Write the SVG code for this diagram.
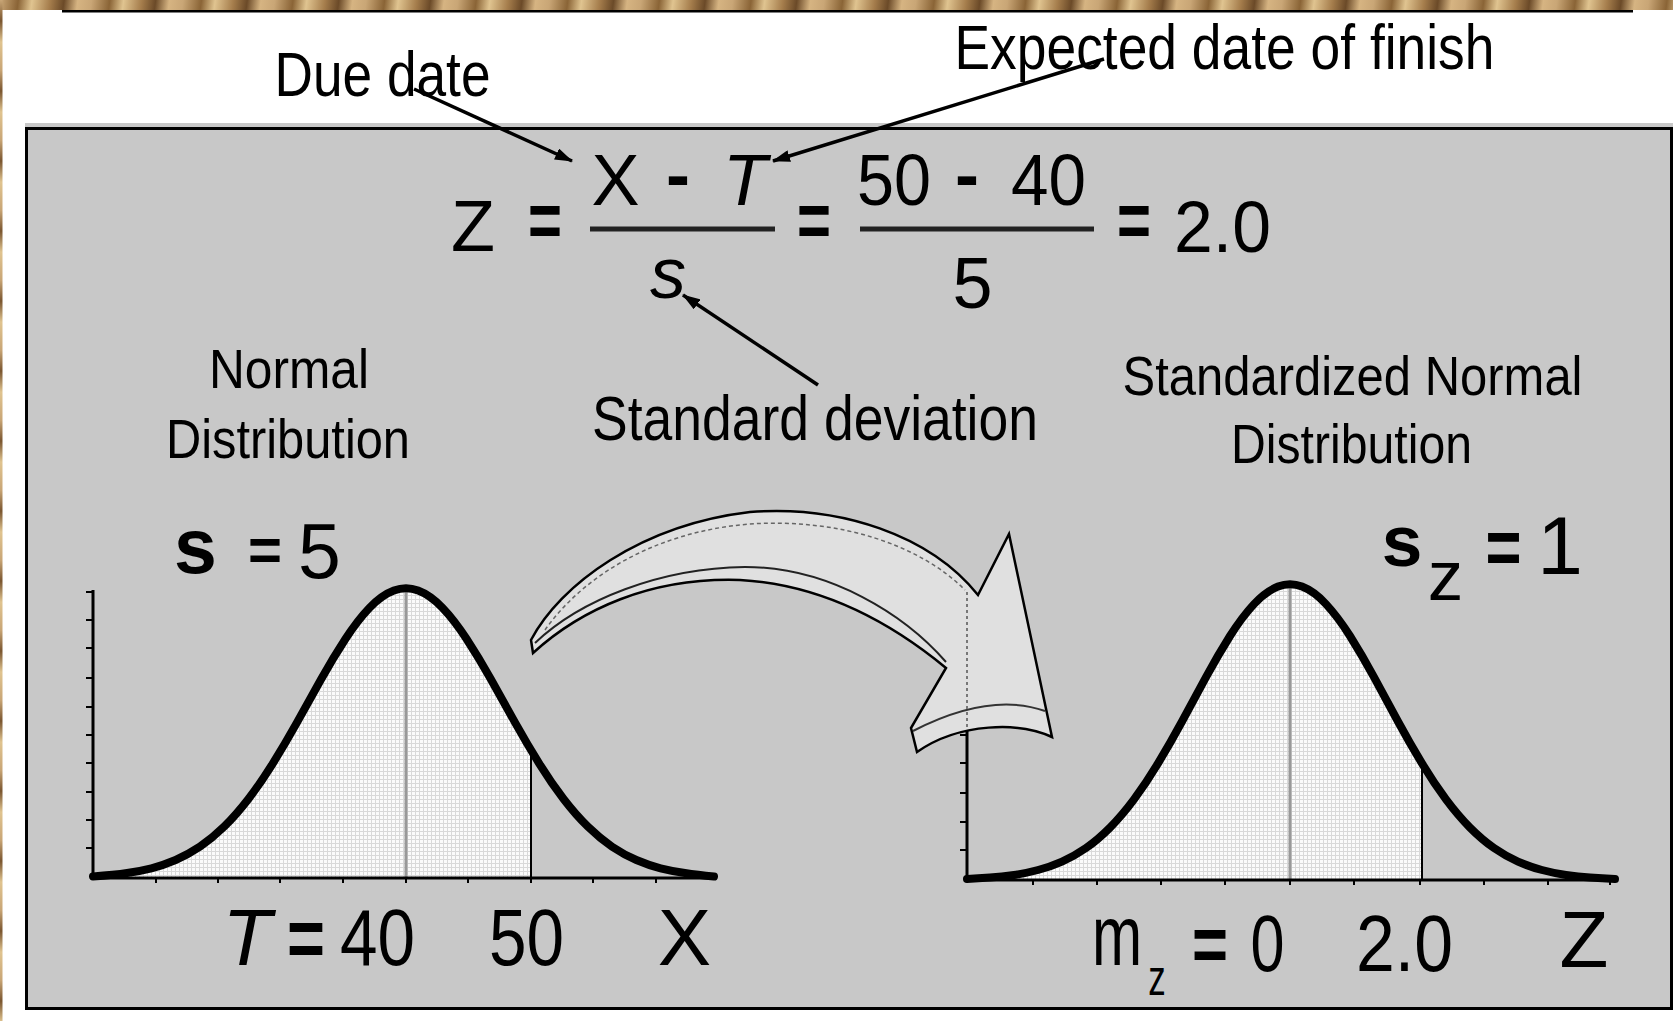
<svg xmlns="http://www.w3.org/2000/svg" width="1673" height="1021" viewBox="0 0 1673 1021">
<defs>
<style>
text{font-family:"Liberation Sans Narrow","Liberation Sans",Arial,sans-serif;fill:#000;text-anchor:middle}
.lbl{font-size:63px}
.sub{font-size:56px}
.eq{font-size:72px}
.bold{font-weight:bold}
.it{font-style:italic}
.conn{stroke:#000;stroke-width:3.5;fill:none;marker-end:url(#ah)}
.axis{stroke:#000;stroke-width:3;fill:none}
.tick{stroke:#000;stroke-width:2}
.curve{stroke:#000;stroke-width:8;fill:none;stroke-linejoin:round;stroke-linecap:round}
.mean{stroke:#999;stroke-width:3}
.cut{stroke:#000;stroke-width:2}
.frac{stroke:#222;stroke-width:5}
</style>
<linearGradient id="wood" gradientUnits="userSpaceOnUse" x1="0" y1="0" x2="90" y2="12" spreadMethod="repeat">
<stop offset="0" stop-color="#c9a676"/>
<stop offset="0.2" stop-color="#8a6436"/>
<stop offset="0.35" stop-color="#e0c490"/>
<stop offset="0.55" stop-color="#a57d4c"/>
<stop offset="0.7" stop-color="#6b4a28"/>
<stop offset="0.85" stop-color="#d6b482"/>
<stop offset="1" stop-color="#c9a676"/>
</linearGradient>
<linearGradient id="woodv" gradientUnits="userSpaceOnUse" x1="0" y1="0" x2="0" y2="70" spreadMethod="repeat">
<stop offset="0" stop-color="#c9a676"/>
<stop offset="0.3" stop-color="#7a5630"/>
<stop offset="0.6" stop-color="#e0c490"/>
<stop offset="1" stop-color="#c9a676"/>
</linearGradient>
<pattern id="dots" width="4" height="4" patternUnits="userSpaceOnUse">
<rect width="4" height="4" fill="#fbfbfb"/>
<rect x="3" width="1" height="4" fill="#d9d9d9"/>
<rect y="3" width="4" height="1" fill="#d9d9d9"/>
</pattern>
<marker id="ah" markerUnits="userSpaceOnUse" viewBox="0 0 18 12" refX="17" refY="6" markerWidth="18" markerHeight="12" orient="auto">
<path d="M0,0 L18,6 L0,12 z" fill="#000"/>
</marker>
</defs>

<rect x="0" y="0" width="1673" height="1021" fill="#fff"/>
<rect x="0" y="0" width="1673" height="10" fill="url(#wood)"/>
<rect x="0" y="0" width="2.5" height="1021" fill="url(#woodv)"/>
<rect x="62" y="10" width="1571" height="2.5" fill="#000"/>

<g id="panel">
<rect x="25" y="123" width="1648" height="887" fill="#c8c8c8"/>
<rect x="26.5" y="128.5" width="1645" height="880" fill="none" stroke="#000" stroke-width="3"/>
</g>

<g id="label-due-date"><text class="lbl" x="382.5" y="96" textLength="216" lengthAdjust="spacingAndGlyphs">Due date</text></g>
<g id="label-expected"><text class="lbl" x="1224.5" y="69" textLength="540" lengthAdjust="spacingAndGlyphs">Expected date of finish</text></g>

<g id="formula">
<text class="eq" x="473" y="251">Z</text>
<text class="bold" x="545" y="247" font-size="80" textLength="34" lengthAdjust="spacingAndGlyphs">=</text>
<text class="eq" x="615.5" y="205">X</text>
<text class="eq bold" x="678" y="199">-</text>
<text class="eq it" x="745" y="205">T</text>
<line class="frac" x1="590" y1="229" x2="775" y2="229"/>
<text class="eq it" x="668" y="298">s</text>
<text class="bold" x="814" y="247" font-size="80" textLength="34" lengthAdjust="spacingAndGlyphs">=</text>
<text class="eq" x="894" y="205" textLength="74" lengthAdjust="spacingAndGlyphs">50</text>
<text class="eq bold" x="967" y="199">-</text>
<text class="eq" x="1048.5" y="205" textLength="75" lengthAdjust="spacingAndGlyphs">40</text>
<line class="frac" x1="860" y1="229" x2="1094" y2="229"/>
<text class="eq" x="972.5" y="308">5</text>
<text class="bold" x="1134" y="247" font-size="80" textLength="34" lengthAdjust="spacingAndGlyphs">=</text>
<text class="eq" x="1222.5" y="252" textLength="97" lengthAdjust="spacingAndGlyphs">2.0</text>
</g>

<g id="label-std-dev"><text class="lbl" x="815" y="440" textLength="446" lengthAdjust="spacingAndGlyphs">Standard deviation</text></g>

<g id="title-normal">
<text class="sub" x="289" y="388" textLength="160" lengthAdjust="spacingAndGlyphs">Normal</text>
<text class="sub" x="288" y="458" textLength="244" lengthAdjust="spacingAndGlyphs">Distribution</text>
</g>
<g id="title-standardized">
<text class="sub" x="1352.5" y="395" textLength="460" lengthAdjust="spacingAndGlyphs">Standardized Normal</text>
<text class="sub" x="1351.5" y="463" textLength="241" lengthAdjust="spacingAndGlyphs">Distribution</text>
</g>

<g id="chart-normal">
<path d="M93,878 L115,874.8 L139.25,871.3 L163.5,865.2 L187.75,854.8 L212,838.5 L236.25,814.8 L260.5,783.2 L284.75,744.3 L309,700.9 L333.25,657.6 L357.5,620.3 L381.75,595 L406,586 L430.25,595 L454.5,620.3 L478.75,657.6 L503,700.9 L527.25,744.3 L531,750.7 L531,878 Z" fill="url(#dots)"/>
<line class="mean" x1="406" y1="586" x2="406" y2="878"/>
<line class="cut" x1="531" y1="751" x2="531" y2="878"/>
<line class="axis" x1="93" y1="590" x2="93" y2="879"/>
<line class="axis" x1="92" y1="878" x2="714" y2="878"/>
<g class="tick">
<line x1="86" y1="592" x2="93" y2="592"/><line x1="86" y1="620" x2="93" y2="620"/><line x1="86" y1="648" x2="93" y2="648"/><line x1="86" y1="678" x2="93" y2="678"/><line x1="86" y1="707" x2="93" y2="707"/><line x1="86" y1="735" x2="93" y2="735"/><line x1="86" y1="763" x2="93" y2="763"/><line x1="86" y1="792" x2="93" y2="792"/><line x1="86" y1="820" x2="93" y2="820"/><line x1="86" y1="848" x2="93" y2="848"/>
<line x1="156" y1="878" x2="156" y2="883"/><line x1="218" y1="878" x2="218" y2="883"/><line x1="280" y1="878" x2="280" y2="883"/><line x1="343" y1="878" x2="343" y2="883"/><line x1="406" y1="878" x2="406" y2="883"/><line x1="468" y1="878" x2="468" y2="883"/><line x1="531" y1="878" x2="531" y2="883"/><line x1="593" y1="878" x2="593" y2="883"/><line x1="656" y1="878" x2="656" y2="883"/>
</g>
<path class="curve" d="M93,876.5 Q115,874.8 127.1,873 Q139.25,871.3 151.4,868.3 Q163.5,865.2 175.6,860 Q187.75,854.8 199.9,846.7 Q212,838.5 224.1,826.7 Q236.25,814.8 248.4,799 Q260.5,783.2 272.6,763.8 Q284.75,744.3 296.9,722.6 Q309,700.9 321.1,679.3 Q333.25,657.6 345.4,639 Q357.5,620.3 369.6,607.7 Q381.75,595 393.9,590.5 Q406,586 418.1,590.5 Q430.25,595 442.4,607.7 Q454.5,620.3 466.6,639 Q478.75,657.6 490.9,679.3 Q503,700.9 515.1,722.6 Q527.25,744.3 539.4,763.8 Q551.5,783.2 563.6,799 Q575.75,814.8 587.9,826.7 Q600,838.5 612.1,846.7 Q624.25,854.8 636.4,860 Q648.5,865.2 660.6,868.3 Q672.75,871.3 684.9,873 Q697,874.8 714,876.5"/>
</g>

<g id="chart-standardized">
<path d="M967,879 L978,878.5 L1002,876.7 L1026,873.2 L1050,866.9 L1074,856.3 L1098,839.7 L1122,815.5 L1146,783.2 L1170,743.6 L1194,699.3 L1218,655.1 L1242,617 L1266,591.2 L1290,582 L1314,591.2 L1338,617 L1362,655.1 L1386,699.3 L1410,743.6 L1422,764 L1422,880 L967,880 Z" fill="url(#dots)"/>
<line class="mean" x1="1290" y1="582" x2="1290" y2="880"/>
<line class="cut" x1="1422" y1="764" x2="1422" y2="880"/>
<line class="axis" x1="967" y1="592" x2="967" y2="881"/>
<line class="axis" x1="966" y1="880" x2="1615" y2="880"/>
<g class="tick">
<line x1="960" y1="620" x2="967" y2="620"/><line x1="960" y1="648" x2="967" y2="648"/><line x1="960" y1="677" x2="967" y2="677"/><line x1="960" y1="706" x2="967" y2="706"/><line x1="960" y1="735" x2="967" y2="735"/><line x1="960" y1="763" x2="967" y2="763"/><line x1="960" y1="793" x2="967" y2="793"/><line x1="960" y1="822" x2="967" y2="822"/><line x1="960" y1="850" x2="967" y2="850"/>
<line x1="1033" y1="880" x2="1033" y2="885"/><line x1="1097" y1="880" x2="1097" y2="885"/><line x1="1161" y1="880" x2="1161" y2="885"/><line x1="1225" y1="880" x2="1225" y2="885"/><line x1="1290" y1="880" x2="1290" y2="885"/><line x1="1354" y1="880" x2="1354" y2="885"/><line x1="1420" y1="880" x2="1420" y2="885"/><line x1="1484" y1="880" x2="1484" y2="885"/><line x1="1548" y1="880" x2="1548" y2="885"/><line x1="1610" y1="880" x2="1610" y2="885"/>
</g>
<path class="curve" d="M967,879 Q978,878.5 990,877.6 Q1002,876.7 1014,875 Q1026,873.2 1038,870 Q1050,866.9 1062,861.6 Q1074,856.3 1086,848 Q1098,839.7 1110,827.6 Q1122,815.5 1134,799.4 Q1146,783.2 1158,763.4 Q1170,743.6 1182,721.5 Q1194,699.3 1206,677.2 Q1218,655.1 1230,636 Q1242,617 1254,604.1 Q1266,591.2 1278,586.6 Q1290,582 1302,586.6 Q1314,591.2 1326,604.1 Q1338,617 1350,636 Q1362,655.1 1374,677.2 Q1386,699.3 1398,721.5 Q1410,743.6 1422,763.4 Q1434,783.2 1446,799.4 Q1458,815.5 1470,827.6 Q1482,839.7 1494,848 Q1506,856.3 1518,861.6 Q1530,866.9 1542,870 Q1554,873.2 1566,875 Q1578,876.7 1590,877.6 Q1602,878.5 1615,879"/>
</g>

<g id="sigma-left">
<text class="bold" x="195.5" y="573" font-size="77">s</text>
<text class="bold" x="265" y="571" font-size="62" textLength="34" lengthAdjust="spacingAndGlyphs">=</text>
<text x="319.5" y="578" font-size="77">5</text>
</g>
<g id="sigma-right">
<text class="bold" x="1402" y="566" font-size="73">s</text>
<text x="1445.5" y="600" font-size="71">z</text>
<text class="bold" x="1503.5" y="574" font-size="80" textLength="36" lengthAdjust="spacingAndGlyphs">=</text>
<text x="1560" y="574" font-size="82">1</text>
</g>

<g id="axis-labels-left">
<text class="it" x="247" y="965" font-size="80">T</text>
<text class="bold" x="306" y="967" font-size="84" textLength="38" lengthAdjust="spacingAndGlyphs">=</text>
<text x="377.5" y="965" font-size="80" textLength="75" lengthAdjust="spacingAndGlyphs">40</text>
<text x="526.5" y="965" font-size="80" textLength="75" lengthAdjust="spacingAndGlyphs">50</text>
<text x="684.5" y="965" font-size="80">X</text>
</g>
<g id="axis-labels-right">
<text transform="translate(1117,965) scale(0.7,1)" font-size="86">m<tspan x="57" y="30" font-size="50">z</tspan></text>
<text class="bold" x="1210" y="971" font-size="80" textLength="36" lengthAdjust="spacingAndGlyphs">=</text>
<text x="1267.5" y="971" font-size="80" textLength="34" lengthAdjust="spacingAndGlyphs">0</text>
<text x="1404.5" y="971" font-size="80" textLength="97" lengthAdjust="spacingAndGlyphs">2.0</text>
<text x="1584" y="967" font-size="80">Z</text>
</g>

<g id="transform-arrow">
<path d="M531,640 C560,585 640,525 750,512 C840,505 930,535 978,595 L1009,534 L1052,737 C1020,722 960,722 917,752 L911,728 L946,668 C900,630 830,585 740,580 C650,577 580,610 533,653 Z" fill="#e0e0e0" stroke="#000" stroke-width="2.5" stroke-linejoin="miter"/>
<path d="M535,643 C580,600 660,568 745,567 C830,567 905,615 946,662" fill="none" stroke="#222" stroke-width="2"/>
<path d="M545,630 C580,580 650,532 750,524 C840,518 920,545 965,590" fill="none" stroke="#666" stroke-width="1.5" stroke-dasharray="4 3"/>
<path d="M913,731 C950,712 1000,695 1045,711" fill="none" stroke="#333" stroke-width="2"/>
<line x1="967" y1="592" x2="967" y2="728" stroke="#777" stroke-width="2" stroke-dasharray="3 3"/>
</g>

<g id="connectors">
<line class="conn" x1="414" y1="89" x2="572" y2="161"/>
<line class="conn" x1="1104" y1="59" x2="773" y2="161"/>
<line class="conn" x1="818" y1="385" x2="683" y2="295"/>
</g>
</svg>
